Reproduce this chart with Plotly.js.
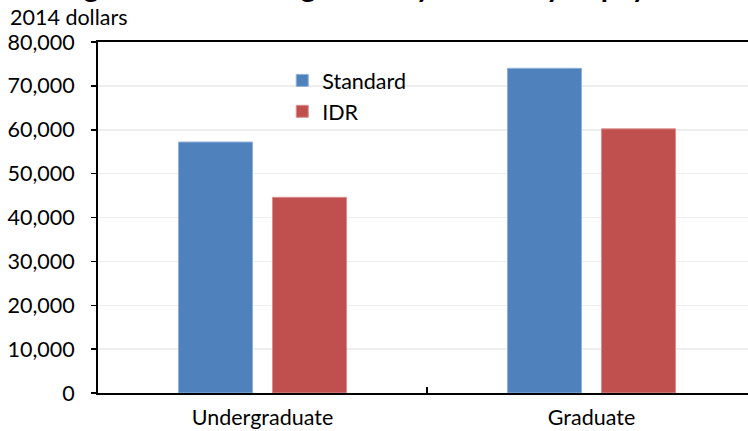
<!DOCTYPE html>
<html>
<head>
<meta charset="utf-8">
<script src="https://cdn.plot.ly/plotly-3.0.1.min.js"></script>
<style>
html,body{margin:0;padding:0;background:#fff;overflow:hidden;width:748px;height:431px;}
#chart{width:760px;height:431px;}
</style>
</head>
<body>
<div id="chart"></div>
<script>
var categories = ["Undergraduate", "Graduate"];
var standardValues = [57200, 74000];
var idrValues = [44600, 60200];
var seriesNames = ["Standard", "IDR"];
var titleText = "Average Annual Earnings in Early Career by Repayment Plan";
var unitLabel = "2014 dollars";

var FONT = "Lato, 'Open Sans', sans-serif";

var traces = [
  {
    type: "bar", name: seriesNames[0], x: categories, y: standardValues,
    legendgroup: "a",
    marker: {color: "#4F81BD", line: {color: "#8FB0DA", width: 1}}
  },
  {
    type: "bar", name: seriesNames[1], x: categories, y: idrValues,
    legendgroup: "b",
    marker: {color: "#C0504D", line: {color: "#DA8F8D", width: 1}}
  }
];

var layout = {
  width: 760, height: 431,
  margin: {l: 98, r: 4, t: 42, b: 38},
  paper_bgcolor: "#ffffff", plot_bgcolor: "#ffffff",
  font: {family: FONT, size: 21.5, color: "#000"},
  barmode: "group",
  bargap: 0.4286,
  bargroupgap: 0.2128,
  showlegend: true,
  legend: {
    x: 0.280, xanchor: "left", y: 0.949, yanchor: "top",
    bgcolor: "rgba(0,0,0,0)", font: {family: FONT, size: 21.5, color: "#000"},
    tracegroupgap: 27, traceorder: "normal"
  },
  xaxis: {
    type: "category",
    showline: true, linecolor: "#000", linewidth: 2, mirror: true,
    ticks: "inside", tickson: "boundaries", ticklen: 6, tickwidth: 1.5, tickcolor: "#000",
    showgrid: false, zeroline: false,
    tickfont: {family: FONT, size: 21.5, color: "#000"},
    ticklabelstandoff: 4
  },
  yaxis: {
    range: [0, 80000], dtick: 10000, tick0: 0, tickformat: ",d",
    showline: true, linecolor: "#000", linewidth: 2, mirror: true,
    ticks: "outside", ticklen: 5, tickwidth: 1.5, tickcolor: "#000",
    showgrid: true, gridcolor: "#EEEEEE", gridwidth: 1.5, zeroline: false,
    tickfont: {family: FONT, size: 21.5, color: "#000"},
    ticklabelstandoff: 12
  },
  annotations: [
    {
      text: unitLabel, xref: "paper", yref: "paper", x: 0, y: 1,
      xanchor: "left", yanchor: "bottom", showarrow: false,
      xshift: -90, yshift: 10,
      font: {family: FONT, size: 21.5, color: "#000"}
    },
    {
      text: "<b>" + titleText + "</b>", xref: "paper", yref: "paper", x: 0, y: 1,
      xanchor: "left", yanchor: "bottom", showarrow: false,
      xshift: -92, yshift: 37,
      font: {family: FONT, size: 29, color: "#000"}
    }
  ]
};

Plotly.newPlot("chart", traces, layout, {displayModeBar: false, staticPlot: true});
</script>
</body>
</html>
